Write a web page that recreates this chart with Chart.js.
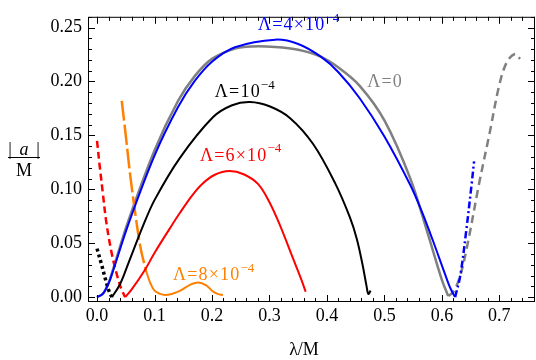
<!DOCTYPE html>
<html>
<head>
<meta charset="utf-8">
<script src="https://cdn.jsdelivr.net/npm/chart.js@4.4.0/dist/chart.umd.min.js"></script>
<style>
  html, body { margin: 0; padding: 0; background: #fff; }
  #wrap { width: 536px; height: 360px; }
  .pre { font-family: "Liberation Serif"; position: absolute; left: -999px; }
</style>
</head>
<body>
<span class="pre">0.1 Λλ×− <i>a</i></span>
<div id="wrap"><canvas id="chart" width="536" height="360"></canvas></div>
<script>
// tick values
const xTicks = [0, 0.1, 0.2, 0.3, 0.4, 0.5, 0.6, 0.7];
const yTicks = [0, 0.05, 0.1, 0.15, 0.2, 0.25];

// Λ = 0 (gray)
const grayX = [0, 0.01, 0.02, 0.028, 0.054, 0.1, 0.141, 0.17, 0.2, 0.24, 0.27, 0.31, 0.35, 0.387, 0.42, 0.457, 0.5, 0.545, 0.576, 0.6, 0.611];
const grayY = [0, 0.003, 0.013, 0.026, 0.07, 0.136, 0.182, 0.205, 0.221, 0.2305, 0.2325, 0.232, 0.2295, 0.2235, 0.213, 0.196, 0.164, 0.11, 0.058, 0.016, 0.001];
const grayDashX = [0.611, 0.62, 0.632, 0.645, 0.665, 0.683, 0.7, 0.713, 0.727, 0.736];
const grayDashY = [0.001, 0.005, 0.02, 0.05, 0.106, 0.152, 0.197, 0.218, 0.2255, 0.221];

// Λ = 4e-4 (blue)
const blueX = [0, 0.01, 0.02, 0.028, 0.054, 0.1, 0.141, 0.17, 0.2, 0.24, 0.31, 0.35, 0.39, 0.42, 0.457, 0.5, 0.545, 0.565, 0.584, 0.605, 0.615, 0.623];
const blueY = [0, 0.003, 0.0125, 0.0245, 0.0668, 0.1312, 0.1763, 0.2005, 0.2184, 0.2318, 0.2388, 0.2348, 0.2228, 0.2086, 0.1845, 0.149, 0.104, 0.0795, 0.053, 0.022, 0.008, 0];
const blueDashX = [0.623, 0.632, 0.642, 0.652, 0.656];
const blueDashY = [0, 0.02, 0.06, 0.106, 0.126];

// Λ = 1e-4 (black)
const blackDotX = [0, 0.008, 0.016, 0.022, 0.026];
const blackDotY = [0.045, 0.03, 0.014, 0.004, 0];
const blackX = [0.026, 0.04, 0.055, 0.08, 0.1, 0.144, 0.202, 0.235, 0.266, 0.3, 0.336, 0.376, 0.414, 0.44, 0.452, 0.462, 0.469, 0.472, 0.476];
const blackY = [0, 0.012, 0.032, 0.066, 0.09, 0.129, 0.167, 0.178, 0.181, 0.177, 0.166, 0.142, 0.106, 0.074, 0.054, 0.03, 0.01, 0.003, 0.006];

// Λ = 6e-4 (red)
const redDashX = [0, 0.005, 0.01, 0.016, 0.025, 0.033, 0.042, 0.049];
const redDashY = [0.145, 0.12, 0.097, 0.07, 0.042, 0.024, 0.008, 0];
const redX = [0.049, 0.06, 0.083, 0.1, 0.127, 0.144, 0.165, 0.183, 0.205, 0.23, 0.255, 0.28, 0.3, 0.318, 0.341, 0.355, 0.363];
const redY = [0, 0.007, 0.025, 0.041, 0.064, 0.078, 0.094, 0.105, 0.1135, 0.117, 0.114, 0.105, 0.088, 0.067, 0.036, 0.017, 0.005];

// Λ = 8e-4 (orange)
const orangeDashX = [0.043, 0.05, 0.058, 0.068, 0.076, 0.085];
const orangeDashY = [0.182, 0.15, 0.112, 0.072, 0.045, 0.025];
const orangeX = [0.085, 0.092, 0.1, 0.11, 0.118, 0.13, 0.145, 0.16, 0.176, 0.19, 0.2, 0.21, 0.219];
const orangeY = [0.025, 0.014, 0.006, 0.003, 0.002, 0.003, 0.006, 0.011, 0.0135, 0.011, 0.006, 0.003, 0.002];

const GRAY = '#808080', BLUE = '#0000ff', BLACK = '#000000', RED = '#ff0000', ORANGE = '#ff8000';
const SERIF = '"Liberation Serif", "DejaVu Serif", serif';

const pts = (xs, ys) => xs.map((x, i) => ({ x, y: ys[i] }));
function line(label, xs, ys, color, width, dash, order) {
  return {
    label, data: pts(xs, ys), borderColor: color, borderWidth: width,
    borderDash: dash, pointRadius: 0, fill: false, order,
    tension: 0.35, borderCapStyle: 'butt'
  };
}

// curve labels: [text, exponent, x, y (data coords, left/middle), colour]
const labels = [
  ['Λ=4×10', '−4', 0.28, 0.252, BLUE],
  ['Λ=10', '−4', 0.205, 0.19, BLACK],
  ['Λ=6×10', '−4', 0.179, 0.131, RED],
  ['Λ=0', '', 0.47, 0.199, GRAY],
  ['Λ=8×10', '−4', 0.132, 0.02, ORANGE]
];

const framePlugin = {
  id: 'frame',
  afterDraw(chart) {
    const { ctx, chartArea: a, scales: { x, y } } = chart;
    ctx.save();
    ctx.strokeStyle = '#000';
    ctx.lineWidth = 1;
    ctx.strokeRect(a.left + 0.5, a.top + 0.5, a.right - a.left - 1, a.bottom - a.top - 1);
    ctx.beginPath();
    for (let i = 0; i <= 38; i++) {
      const v = i * 0.02;
      const px = Math.round(x.getPixelForValue(v)) + 0.5;
      const len = i % 5 === 0 ? 7 : 4;
      ctx.moveTo(px, a.bottom); ctx.lineTo(px, a.bottom - len);
      ctx.moveTo(px, a.top); ctx.lineTo(px, a.top + len);
    }
    for (let i = 0; i <= 26; i++) {
      const v = i * 0.01;
      const py = Math.round(y.getPixelForValue(v)) + 0.5;
      const len = i % 5 === 0 ? 7 : 4;
      ctx.moveTo(a.left, py); ctx.lineTo(a.left + len, py);
      ctx.moveTo(a.right, py); ctx.lineTo(a.right - len, py);
    }
    ctx.stroke();

    // curve labels
    ctx.textBaseline = 'middle';
    ctx.textAlign = 'left';
    labels.forEach(([t, e, lx, ly, c]) => {
      let px = x.getPixelForValue(lx);
      const py = y.getPixelForValue(ly);
      ctx.fillStyle = c;
      ctx.font = '18px ' + SERIF;
      for (const ch of t) {
        ctx.fillText(ch, px, py);
        px += ctx.measureText(ch).width + 1.2;
      }
      if (e) {
        ctx.font = '13px ' + SERIF;
        ctx.fillText(e, px, py - 7);
      }
    });

    // axis titles
    ctx.fillStyle = '#000';
    ctx.font = '18px ' + SERIF;
    ctx.textAlign = 'center';
    ctx.fillText('λ/M', 304, 350);
    ctx.textBaseline = 'alphabetic';
    ctx.fillText('|', 10, 155);
    ctx.fillText('|', 38, 155);
    ctx.font = 'italic 18px ' + SERIF;
    ctx.fillText('a', 24, 155);
    ctx.font = '18px ' + SERIF;
    ctx.fillText('M', 24, 176);
    ctx.beginPath();
    ctx.moveTo(8, 157.5); ctx.lineTo(40, 157.5);
    ctx.stroke();
    ctx.restore();
  }
};

function draw() {
  new Chart(document.getElementById('chart').getContext('2d'), {
    type: 'line',
    data: {
      datasets: [
        line('Λ=0', grayX, grayY, GRAY, 2.5, [], 9),
        line('Λ=0 ext', grayDashX, grayDashY, GRAY, 2.5, [8, 5], 8),
        line('Λ=4e-4', blueX, blueY, BLUE, 2, [], 1),
        line('Λ=4e-4 ext', blueDashX, blueDashY, BLUE, 2.5, [7, 3, 2, 3], 1),
        line('Λ=1e-4', blackX, blackY, BLACK, 2, [], 2),
        line('Λ=1e-4 ext', blackDotX, blackDotY, BLACK, 3.5, [3, 3], 2),
        line('Λ=6e-4', redX, redY, RED, 2, [], 3),
        line('Λ=6e-4 ext', redDashX, redDashY, RED, 2.5, [7, 4], 3),
        line('Λ=8e-4', orangeX, orangeY, ORANGE, 2, [], 4),
        line('Λ=8e-4 ext', orangeDashX, orangeDashY, ORANGE, 2.5, [20, 4], 4)
      ]
    },
    options: {
      responsive: false,
      animation: false,
      layout: { padding: { top: 11, right: 1, left: 0, bottom: 0 } },
      plugins: { legend: { display: false }, tooltip: { enabled: false } },
      scales: {
        x: {
          type: 'linear', min: -0.0157, max: 0.762,
          afterBuildTicks: s => { s.ticks = xTicks.map(v => ({ value: v })); },
          afterFit: s => { s.height = 58; },
          grid: { display: false, drawTicks: false },
          border: { display: false },
          ticks: { callback: v => v.toFixed(1), font: { family: SERIF, size: 18 }, color: '#000', padding: 3, maxRotation: 0, autoSkip: false }
        },
        y: {
          type: 'linear', min: -0.0045, max: 0.26,
          afterBuildTicks: s => { s.ticks = yTicks.map(v => ({ value: v })); },
          afterFit: s => { s.width = 88; },
          grid: { display: false, drawTicks: false },
          border: { display: false },
          ticks: { callback: v => v.toFixed(2), font: { family: SERIF, size: 18 }, color: '#000', padding: 6, autoSkip: false }
        }
      }
    },
    plugins: [framePlugin]
  });
}

Promise.all([
  document.fonts.load('18px "Liberation Serif"'),
  document.fonts.load('italic 18px "Liberation Serif"')
]).then(draw, draw);
</script>
</body>
</html>
